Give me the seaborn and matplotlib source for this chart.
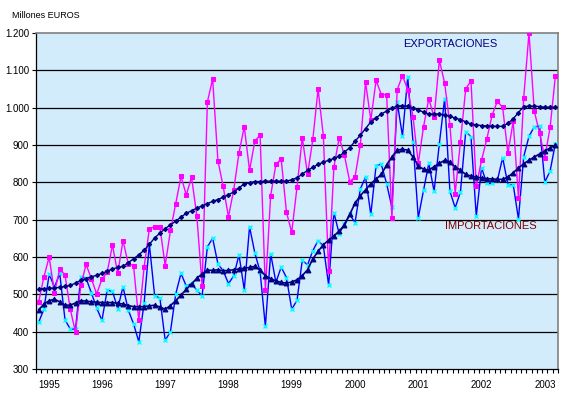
import matplotlib
matplotlib.use("Agg")
import matplotlib.pyplot as plt
import numpy as np
import pandas as pd
import seaborn as sns
from matplotlib.ticker import FuncFormatter, MultipleLocator

# monthly values, Jan 1995 .. Mar 2003 (millones de euros)
exportaciones = [
    479, 547, 600, 504, 568, 552, 460, 398, 524, 580, 542, 501,
    540, 559, 632, 556, 644, 582, 577, 430, 572, 676, 681, 680,
    577, 671, 743, 816, 766, 814, 711, 522, 1015, 1077, 858, 789,
    708, 780, 879, 949, 832, 910, 927, 512, 764, 848, 863, 720,
    666, 787, 920, 821, 915, 1050, 924, 563, 841, 920, 872, 802,
    814, 900, 1068, 967, 1073, 1035, 1035, 704, 1048, 1086, 1048, 976,
    851, 949, 1024, 974, 1127, 1066, 954, 770, 909, 1051, 1071, 790,
    859, 916, 980, 1017, 1001, 878, 963, 759, 1027, 1200, 991, 932,
    866, 947, 1084,
]
exportaciones_tend = [
    515, 515, 516, 517, 519, 521, 524, 530, 538, 542, 547, 551,
    556, 562, 568, 572, 575, 585, 595, 606, 618, 634, 651, 664,
    676, 686, 696, 707, 717, 724, 731, 737, 743, 749, 754, 760,
    767, 774, 785, 796, 799, 802, 802, 803, 803, 803, 803, 803,
    807, 812, 822, 832, 840, 848, 854, 859, 864, 870, 881, 893,
    910, 926, 944, 962, 973, 983, 991, 999, 1004, 1005, 1004, 999,
    994, 988, 983, 983, 983, 980, 977, 972, 968, 962, 956, 954,
    952, 951, 950, 950, 950, 958, 970, 987, 1003, 1004, 1004, 1003,
    1001, 1001, 1001,
]
importaciones = [
    425, 460, 554, 519, 556, 432, 407, 407, 547, 543, 504, 464,
    430, 511, 508, 462, 520, 458, 421, 373, 476, 634, 496, 490,
    377, 400, 501, 556, 522, 529, 511, 496, 627, 650, 582, 563,
    529, 549, 606, 512, 681, 611, 561, 414, 609, 532, 573, 545,
    460, 484, 591, 579, 617, 644, 629, 525, 719, 662, 689, 714,
    692, 782, 814, 714, 845, 848, 796, 733, 1015, 924, 1082, 908,
    705, 779, 851, 776, 904, 1024, 776, 732, 774, 936, 922, 709,
    839, 797, 797, 805, 866, 794, 794, 702, 869, 923, 949, 950,
    801, 830, 904,
]
importaciones_tend = [
    458, 474, 483, 487, 480, 471, 471, 477, 483, 482, 480, 479,
    478, 478, 478, 476, 474, 470, 467, 467, 467, 469, 471, 466,
    460, 470, 483, 498, 513, 528, 543, 555, 565, 564, 566, 563,
    564, 566, 568, 570, 572, 575, 565, 550, 542, 536, 532, 530,
    533, 539, 550, 566, 595, 615, 633, 645, 656, 670, 685, 714,
    744, 764, 780, 796, 809, 821, 847, 868, 886, 889, 886, 868,
    844, 835, 833, 842, 851, 859, 855, 841, 833, 821, 817, 814,
    812, 810, 809, 808, 808, 814, 826, 838, 850, 859, 868, 876,
    884, 892, 900,
]
years = ["1995", "1996", "1997", "1998", "1999", "2000", "2001", "2002", "2003"]


def main():
    plt.rcParams["font.family"] = ["Liberation Sans", "DejaVu Sans"]
    plt.rcParams["font.size"] = 7

    mes = np.arange(len(exportaciones))
    df = pd.DataFrame({
        "mes": mes,
        "exp": exportaciones,
        "exp_t": exportaciones_tend,
        "imp": importaciones,
        "imp_t": importaciones_tend,
    })

    fig = plt.figure(figsize=(5.67, 3.95), dpi=100)
    ax = fig.add_axes([36 / 567, 26 / 395, 522 / 567, 336 / 395])
    ax.set_facecolor("#d3ecfc")

    for v in range(400, 1200, 100):
        ax.axhline(v, color="black", lw=0.9, zorder=1)

    sns.lineplot(data=df, x="mes", y="imp", ax=ax, color="#0000ff", lw=1,
                 marker="x", markersize=2.5, markeredgecolor="#00ffff",
                 markeredgewidth=1, zorder=3)
    sns.lineplot(data=df, x="mes", y="exp", ax=ax, color="#ff00ff", lw=1,
                 marker="s", markersize=3.2, markeredgecolor="#ff00ff",
                 markerfacecolor="#ff00ff", zorder=4)
    sns.lineplot(data=df, x="mes", y="exp_t", ax=ax, color="#000080", lw=1,
                 marker="D", markersize=2.2, markeredgecolor="#000080",
                 markerfacecolor="#000080", zorder=5)
    sns.lineplot(data=df, x="mes", y="imp_t", ax=ax, color="#000080", lw=1.2,
                 marker="^", markersize=3.5, markeredgecolor="#000080",
                 markerfacecolor="#000080", zorder=5)

    ax.set_xlim(-0.5, 98.5)
    ax.set_ylim(300, 1200)
    ax.set_xlabel("")
    ax.set_ylabel("")

    ax.set_xticks(np.arange(0, 99, 12))
    ax.set_xticklabels(years)
    ax.get_xticklabels()[0].set_ha("left")
    ax.xaxis.set_minor_locator(MultipleLocator(1, offset=0.5))
    ax.tick_params(axis="x", which="major", length=0, pad=8, labelsize=7)
    ax.tick_params(axis="x", which="minor", length=3, width=0.8, direction="out")

    ax.yaxis.set_major_locator(MultipleLocator(100))
    ax.yaxis.set_major_formatter(
        FuncFormatter(lambda v, p: f"{int(v):,}".replace(",", ".")))
    ax.tick_params(axis="y", length=3, width=0.8, direction="out", pad=2,
                   labelsize=7)

    for s in ["left", "bottom"]:
        ax.spines[s].set_color("black")
        ax.spines[s].set_linewidth(0.9)
    for s in ["top", "right"]:
        ax.spines[s].set_color("#808080")
        ax.spines[s].set_linewidth(1.2)

    fig.text(12 / 567, 1 - 16 / 395, "Millones EUROS", fontsize=6.5,
             va="center", ha="left")
    fig.text(403 / 567, 1 - 44 / 395, "EXPORTACIONES", fontsize=8,
             color="#000080", va="center", ha="left")
    fig.text(445 / 567, 1 - 226 / 395, "IMPORTACIONES", fontsize=8,
             color="#800000", va="center", ha="left")

    fig.savefig("out.png", dpi=100, facecolor="white")


if __name__ == "__main__":
    main()
